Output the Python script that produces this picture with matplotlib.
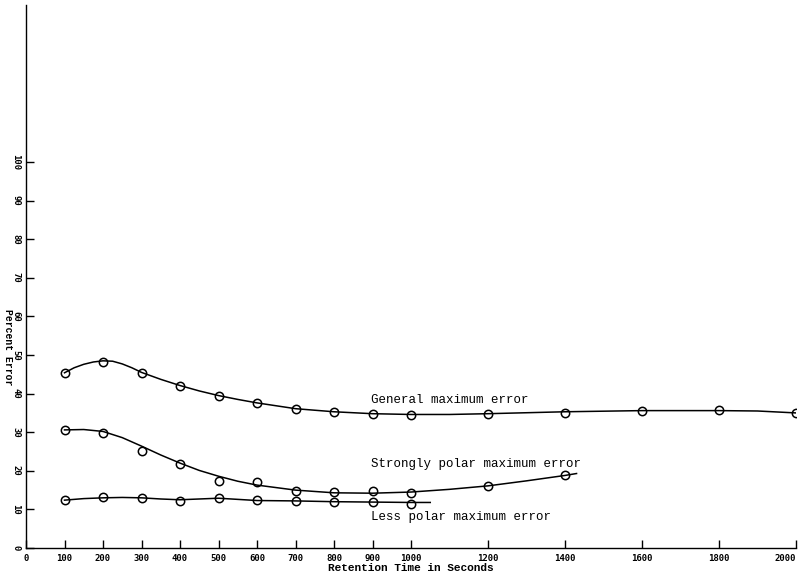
import numpy as np
import matplotlib.pyplot as plt

# measured points (retention time, percent error)
t_pts = [100, 200, 300, 400, 500, 600, 700, 800, 900, 1000]
t_gen = t_pts + [1200, 1400, 1600, 1800, 2000]
general_pts = [45.4, 48.1, 45.4, 42.0, 39.4, 37.6, 36.0, 35.2, 34.8, 34.5,
               34.6, 35.1, 35.6, 35.8, 34.9]
t_strong = t_pts + [1200, 1400]
strong_pts = [30.6, 29.7, 25.1, 21.7, 17.4, 17.0, 14.8, 14.4, 14.8, 14.2,
              16.1, 18.8]
less_pts = [12.4, 13.1, 12.9, 12.2, 12.9, 12.4, 12.2, 11.8, 11.8, 11.5]

# hand-drawn curves
t_gen_curve = [100, 125, 150, 175, 200, 225, 250, 275, 300, 350, 400, 450,
               500, 550, 600, 700, 800, 900, 1000, 1100, 1200, 1400, 1600,
               1800, 1900, 2000]
general_curve = [45.4, 46.7, 47.6, 48.2, 48.5, 48.4, 47.7, 46.7, 45.5, 43.7,
                 42.1, 40.7, 39.5, 38.5, 37.6, 36.1, 35.3, 34.8, 34.6, 34.6,
                 34.8, 35.3, 35.6, 35.6, 35.5, 35.0]
t_strong_curve = [100, 150, 200, 250, 300, 350, 400, 450, 500, 550, 600, 700,
                  800, 900, 1000, 1100, 1200, 1300, 1400, 1430]
strong_curve = [30.6, 30.7, 30.2, 28.6, 26.4, 24.1, 22.0, 20.1, 18.6, 17.3,
                16.3, 15.0, 14.3, 14.2, 14.5, 15.2, 16.1, 17.4, 18.8, 19.3]
t_less_curve = [100, 150, 200, 250, 300, 350, 400, 450, 500, 550, 600, 700,
                800, 900, 1000, 1050]
less_curve = [12.4, 12.8, 13.0, 13.1, 13.0, 12.7, 12.5, 12.7, 12.9, 12.6,
              12.3, 12.2, 12.0, 11.9, 11.8, 11.8]

x_ticks = [0, 100, 200, 300, 400, 500, 600, 700, 800, 900, 1000, 1200, 1400, 1600, 1800, 2000]
y_ticks = [0, 10, 20, 30, 40, 50, 60, 70, 80, 90, 100]

fig = plt.figure(figsize=(8.02, 5.72), dpi=100)
ax = fig.add_axes([26/802, 24/572, 770/802, 543/572])

for tc, yc in [(t_gen_curve, general_curve), (t_strong_curve, strong_curve),
               (t_less_curve, less_curve)]:
    ax.plot(tc, yc, color='black', lw=1.1)

for tp, yp in [(t_gen, general_pts), (t_strong, strong_pts), (t_pts, less_pts)]:
    ax.plot(tp, yp, 'o', ms=6, mfc='none', mec='black', mew=1.1)

ax.set_xlim(0, 2000)
ax.set_ylim(0, 140.7)
ax.spines['top'].set_visible(False)
ax.spines['right'].set_visible(False)
ax.spines['left'].set_linewidth(1.0)
ax.spines['bottom'].set_linewidth(1.0)

ax.set_xticks(x_ticks)
ax.set_xticklabels([str(v) for v in x_ticks], fontsize=6.5, fontweight='bold',
                   family='DejaVu Sans Mono')
ax.get_xticklabels()[-1].set_ha('right')
ax.set_yticks(y_ticks)
ax.set_yticklabels([str(v) for v in y_ticks], fontsize=6.5, fontweight='bold',
                   family='DejaVu Sans Mono', rotation=270, va='center')
ax.tick_params(direction='in', length=6, width=1.0, colors='black', pad=4)

ax.text(0.5, -0.028, 'Retention Time in Seconds', transform=ax.transAxes,
        ha='center', va='top', fontsize=8, fontweight='bold', family='Liberation Mono')
ax.text(-0.024, 0.37, 'Percent Error', transform=ax.transAxes, rotation=270,
        ha='center', va='center', fontsize=7, fontweight='bold', family='Liberation Mono')

lab = dict(fontsize=9, family='Liberation Mono', ha='left', va='center')
ax.text(895, 38.3, 'General maximum error', **lab)
ax.text(895, 21.8, 'Strongly polar maximum error', **lab)
ax.text(895, 8.0, 'Less polar maximum error', **lab)

fig.savefig('out.png', dpi=100)
